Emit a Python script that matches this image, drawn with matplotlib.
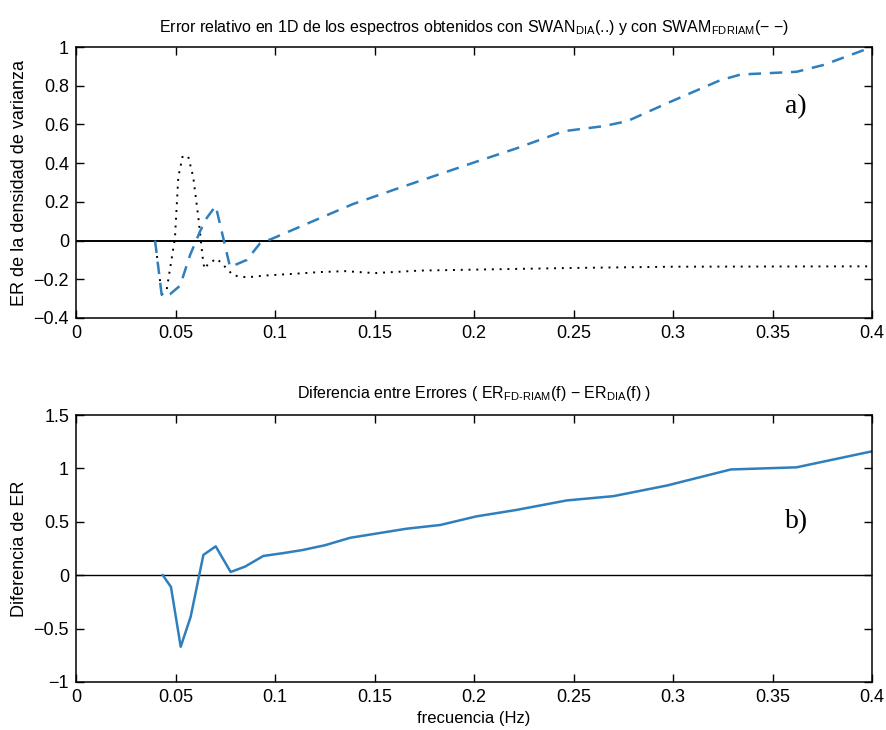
import matplotlib
matplotlib.use("Agg")
import matplotlib.pyplot as plt

# ── Data ────────────────────────────────────────────────────────────────────
# a) relative error of the 1D spectra
f_fdriam = [0.0397, 0.0431, 0.0472, 0.0523, 0.0573, 0.0623, 0.0657, 0.0702,
            0.0774, 0.0858, 0.0925, 0.0991, 0.119, 0.139, 0.161, 0.181,
            0.201, 0.2215, 0.245, 0.265, 0.277, 0.298, 0.3236, 0.334,
            0.362, 0.3755, 0.4]
er_fdriam = [0.0, -0.285, -0.277, -0.233, -0.075, 0.047, 0.117, 0.179,
             -0.137, -0.10, -0.014, 0.012, 0.10, 0.188, 0.267, 0.337,
             0.407, 0.477, 0.565, 0.591, 0.617, 0.714, 0.828, 0.858,
             0.872, 0.907, 1.0]

f_dia = [0.0397, 0.0431, 0.0456, 0.0497, 0.0514, 0.0536, 0.0564, 0.0589,
         0.0615, 0.0637, 0.0645, 0.0665, 0.0707, 0.074, 0.079, 0.0858,
         0.0958, 0.109, 0.122, 0.135, 0.15, 0.173, 0.2466, 0.3, 0.4]
er_dia = [0.0, -0.28, -0.251, 0.012, 0.328, 0.437, 0.433, 0.328,
          0.117, -0.093, -0.146, -0.12, -0.093, -0.126, -0.18, -0.19,
          -0.18, -0.172, -0.163, -0.158, -0.168, -0.155, -0.142, -0.135, -0.133]

# b) difference between errors
f_diff = [0.0436, 0.0477, 0.0526, 0.0576, 0.064, 0.0702, 0.0777, 0.0849,
          0.0941, 0.1035, 0.1137, 0.125, 0.1377, 0.151, 0.166, 0.183,
          0.201, 0.221, 0.2466, 0.27, 0.297, 0.329, 0.362, 0.4]
er_diff = [0.0, -0.11, -0.67, -0.39, 0.19, 0.27, 0.03, 0.08,
           0.18, 0.205, 0.235, 0.28, 0.35, 0.39, 0.435, 0.47,
           0.55, 0.61, 0.70, 0.74, 0.84, 0.99, 1.01, 1.16]

xticks = [0, 0.05, 0.1, 0.15, 0.2, 0.25, 0.3, 0.35, 0.4]
xticklabels = ["0", "0.05", "0.1", "0.15", "0.2", "0.25", "0.3", "0.35", "0.4"]
yticks_a = [-0.4, -0.2, 0, 0.2, 0.4, 0.6, 0.8, 1]
yticks_b = [-1, -0.5, 0, 0.5, 1, 1.5]

BLUE = "#2f7fbd"

plt.rcParams["font.family"] = ["Liberation Sans", "DejaVu Sans"]
plt.rcParams["mathtext.default"] = "regular"

fig = plt.figure(figsize=(8.87, 7.3), dpi=100)
ax1 = fig.add_axes([0.0857, 0.5644, 0.8975, 0.3712])
ax2 = fig.add_axes([0.0857, 0.0658, 0.8975, 0.3657])


def style(ax):
    ax.set_xlim(0, 0.4)
    ax.set_xticks(xticks)
    ax.set_xticklabels(xticklabels)
    ax.tick_params(direction="in", length=6, width=1.0, top=True, right=True,
                   labelsize=13, pad=5)
    for sp in ax.spines.values():
        sp.set_linewidth(1.1)


# ── a) ─────────────────────────────────────────────────────────────────────
ax1.axhline(0, color="black", lw=1.4)
ax1.plot(f_dia, er_dia, color="black", lw=1.4, linestyle=(0, (1, 3)))
ax1.plot(f_fdriam, er_fdriam, color=BLUE, lw=1.8, linestyle=(0, (5, 3.5)))
ax1.set_ylim(-0.4, 1)
ax1.set_yticks(yticks_a)
ax1.set_yticklabels(["\u22120.4", "\u22120.2", "0", "0.2", "0.4", "0.6", "0.8", "1"])
style(ax1)
ax1.set_ylabel("ER de la densidad de varianza", fontsize=13)
ax1.set_title("Error relativo en 1D de los espectros obtenidos con "
              "SWAN$_{DIA}$(..) y con SWAM$_{FDRIAM}$(\u2212 \u2212)",
              fontsize=11.5, pad=11)
ax1.text(0.356, 0.66, "a)", fontsize=20, family="Liberation Serif")

# ── b) ─────────────────────────────────────────────────────────────────────
ax2.axhline(0, color="black", lw=1.0)
ax2.plot(f_diff, er_diff, color=BLUE, lw=1.8)
ax2.set_ylim(-1, 1.5)
ax2.set_yticks(yticks_b)
ax2.set_yticklabels(["\u22121", "\u22120.5", "0", "0.5", "1", "1.5"])
style(ax2)
ax2.set_ylabel("Diferencia de ER", fontsize=13)
ax2.set_xlabel("frecuencia (Hz)", fontsize=12)
ax2.set_title("Diferencia entre Errores ( ER$_{FD\u2010RIAM}$(f) \u2212 ER$_{DIA}$(f) )",
              fontsize=11.5, pad=12)
ax2.text(0.356, 0.44, "b)", fontsize=20, family="Liberation Serif")

fig.savefig("out.png", dpi=100)
